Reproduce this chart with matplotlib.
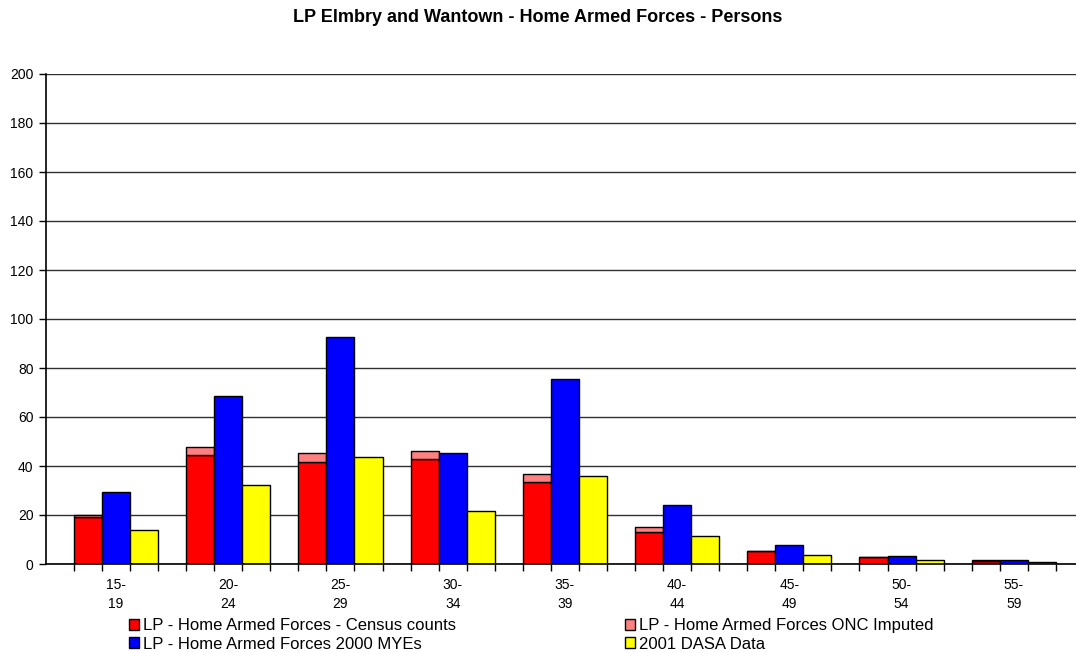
import matplotlib.pyplot as plt
import numpy as np

plt.rcParams['font.family'] = ['Liberation Sans', 'DejaVu Sans']

categories = ['15-\n19', '20-\n24', '25-\n29', '30-\n34', '35-\n39', '40-\n44', '45-\n49', '50-\n54', '55-\n59']
census = [19, 44.4, 41.5, 43, 33.6, 13.2, 5.3, 2.9, 1.1]
imputed = [0.9, 3.2, 3.9, 3.3, 3.3, 1.9, 0, 0, 0.7]
mye_2000 = [29.3, 68.4, 92.7, 45.4, 75.5, 24.0, 7.8, 3.3, 1.5]
dasa_2001 = [13.8, 32.4, 43.7, 21.5, 35.8, 11.4, 3.8, 1.5, 0.8]

x = np.arange(len(categories))
w = 0.25

fig = plt.figure(figsize=(10.76, 6.53), dpi=100)
ax = fig.add_axes([46 / 1076, 1 - 564 / 653, 1034 / 1076, 490 / 653])

ax.set_ylim(0, 200)
ax.set_yticks(np.arange(0, 201, 20))
ax.yaxis.grid(True, color='#303030', linewidth=1)
ax.set_axisbelow(True)

ax.bar(x - w, census, w, color='#FF0000', edgecolor='black', linewidth=1,
       label='LP - Home Armed Forces - Census counts')
ax.bar(x - w, imputed, w, bottom=census, color='#FF8080', edgecolor='black', linewidth=1,
       label='LP - Home Armed Forces ONC Imputed')
ax.bar(x, mye_2000, w, color='#0000FF', edgecolor='black', linewidth=1,
       label='LP - Home Armed Forces 2000 MYEs')
ax.bar(x + w, dasa_2001, w, color='#FFFF00', edgecolor='black', linewidth=1,
       label='2001 DASA Data')

ax.set_xlim(-0.624, 8.59)
ax.set_xticks(x)
ax.set_xticklabels(categories, fontsize=10, linespacing=1.5)
ax.set_xticks(np.concatenate([x - 1.5 * w, x - 0.5 * w, x + 0.5 * w, x + 1.5 * w]), minor=True)
ax.tick_params(axis='x', which='major', length=0, pad=10)
ax.tick_params(axis='x', which='minor', length=5, width=1, direction='out')
ax.tick_params(axis='y', length=5, width=1, labelsize=10, pad=4)

for side in ['top', 'right']:
    ax.spines[side].set_visible(False)
ax.spines['left'].set_linewidth(1.2)
ax.spines['bottom'].set_linewidth(1.2)

fig.suptitle('LP Elmbry and Wantown - Home Armed Forces - Persons', fontsize=13,
             fontweight='bold', y=1 - 18 / 653, va='center')

handles, labels = ax.get_legend_handles_labels()
order = [0, 2, 1, 3]
fig.legend([handles[i] for i in order], [labels[i] for i in order], ncol=2,
           loc='center left', bbox_to_anchor=(129 / 1076, 1 - 635 / 653),
           frameon=False, fontsize=12, handlelength=0.6, handleheight=0.65,
           handletextpad=0.25, columnspacing=10.1, labelspacing=0.2,
           borderpad=0, borderaxespad=0)

fig.savefig('out.png', dpi=100)
